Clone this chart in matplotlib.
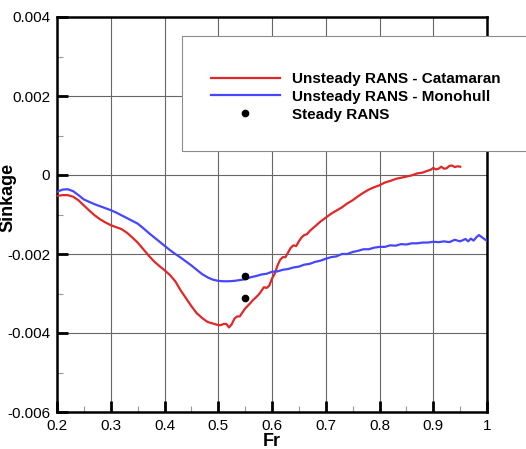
import matplotlib.pyplot as plt
from matplotlib.patches import Rectangle
from matplotlib.ticker import MultipleLocator, FuncFormatter

plt.rcParams['font.family'] = ['Liberation Sans', 'DejaVu Sans']

# Unsteady RANS, catamaran
fr_cat = [0.200, 0.210, 0.220, 0.230, 0.240, 0.250, 0.260, 0.270, 0.280, 0.290,
          0.300, 0.310, 0.320, 0.330, 0.340, 0.350, 0.360, 0.370, 0.380, 0.390,
          0.400, 0.410, 0.420, 0.430, 0.440, 0.450, 0.460, 0.470, 0.480, 0.490,
          0.500, 0.505, 0.510, 0.515, 0.520, 0.525, 0.530, 0.535, 0.540, 0.545,
          0.550, 0.555, 0.560, 0.565, 0.570, 0.575, 0.580, 0.585, 0.590, 0.595,
          0.600, 0.605, 0.610, 0.615, 0.620, 0.625, 0.630, 0.635, 0.640, 0.645,
          0.650, 0.655, 0.660, 0.665, 0.670, 0.675, 0.680, 0.685, 0.690, 0.700,
          0.710, 0.720, 0.730, 0.740, 0.750, 0.760, 0.770, 0.780, 0.790, 0.800,
          0.810, 0.820, 0.830, 0.840, 0.850, 0.860, 0.870, 0.880, 0.890, 0.895,
          0.900, 0.905, 0.910, 0.915, 0.920, 0.925, 0.930, 0.935, 0.940, 0.945,
          0.950]
sink_cat = [-0.00053, -0.00051, -0.00051, -0.00055, -0.00064, -0.00077, -0.00090, -0.00102, -0.00112, -0.00120,
            -0.00127, -0.00132, -0.00137, -0.00146, -0.00158, -0.00171, -0.00187, -0.00203, -0.00218, -0.00230,
            -0.00241, -0.00253, -0.00269, -0.00292, -0.00312, -0.00332, -0.00350, -0.00362, -0.00372, -0.00376,
            -0.00380, -0.00380, -0.00377, -0.00377, -0.00386, -0.00378, -0.00364, -0.00358, -0.00358, -0.00348,
            -0.00338, -0.00331, -0.00324, -0.00316, -0.00310, -0.00303, -0.00294, -0.00284, -0.00286, -0.00280,
            -0.00262, -0.00250, -0.00230, -0.00215, -0.00208, -0.00208, -0.00196, -0.00184, -0.00178, -0.00180,
            -0.00168, -0.00158, -0.00152, -0.00150, -0.00142, -0.00136, -0.00130, -0.00124, -0.00118, -0.00108,
            -0.00098, -0.00090, -0.00082, -0.00072, -0.00064, -0.00054, -0.00045, -0.00037, -0.00031, -0.00026,
            -0.00019, -0.00015, -0.00010, -0.00007, -0.00004, -0.00001, 0.00004, 0.00006, 0.00011, 0.00013,
            0.00018, 0.00014, 0.00016, 0.00021, 0.00016, 0.00017, 0.00023, 0.00024, 0.00020, 0.00022,
            0.00021]

# Unsteady RANS, monohull
fr_mono = [0.200, 0.210, 0.220, 0.230, 0.240, 0.250, 0.260, 0.270, 0.280, 0.290,
           0.300, 0.310, 0.320, 0.330, 0.340, 0.350, 0.360, 0.370, 0.380, 0.390,
           0.400, 0.410, 0.420, 0.430, 0.440, 0.450, 0.460, 0.470, 0.480, 0.490,
           0.500, 0.510, 0.520, 0.530, 0.540, 0.550, 0.560, 0.570, 0.580, 0.590,
           0.600, 0.610, 0.620, 0.630, 0.640, 0.650, 0.660, 0.670, 0.680, 0.690,
           0.700, 0.710, 0.720, 0.730, 0.740, 0.750, 0.760, 0.770, 0.780, 0.790,
           0.800, 0.810, 0.820, 0.830, 0.840, 0.850, 0.860, 0.870, 0.880, 0.890,
           0.900, 0.910, 0.920, 0.930, 0.940, 0.950, 0.960, 0.965, 0.970, 0.975,
           0.980, 0.985, 0.990, 1.000]
sink_mono = [-0.00043, -0.00037, -0.00036, -0.00041, -0.00051, -0.00062, -0.00068, -0.00074, -0.00079, -0.00084,
             -0.00089, -0.00095, -0.00102, -0.00109, -0.00116, -0.00123, -0.00134, -0.00146, -0.00157, -0.00168,
             -0.00179, -0.00190, -0.00200, -0.00209, -0.00219, -0.00229, -0.00240, -0.00251, -0.00259, -0.00265,
             -0.00268, -0.00269, -0.00269, -0.00268, -0.00266, -0.00264, -0.00259, -0.00256, -0.00252, -0.00250,
             -0.00245, -0.00244, -0.00240, -0.00238, -0.00234, -0.00232, -0.00227, -0.00225, -0.00220, -0.00217,
             -0.00212, -0.00208, -0.00206, -0.00200, -0.00200, -0.00195, -0.00192, -0.00188, -0.00188, -0.00184,
             -0.00182, -0.00182, -0.00178, -0.00179, -0.00175, -0.00176, -0.00173, -0.00173, -0.00171, -0.00171,
             -0.00169, -0.00170, -0.00168, -0.00170, -0.00164, -0.00168, -0.00162, -0.00168, -0.00161, -0.00166,
             -0.00158, -0.00152, -0.00157, -0.00167]

# Steady RANS results
fr_steady = [0.55, 0.55]
sink_steady = [-0.00256, -0.00312]

labels = ['Unsteady RANS - Catamaran', 'Unsteady RANS - Monohull', 'Steady RANS']

fig = plt.figure(figsize=(5.26, 4.49), dpi=100)
ax = fig.add_axes([57 / 526, 37 / 449, 430 / 526, 395 / 449])

l1, = ax.plot(fr_cat, sink_cat, color='#e02828', lw=1.6, zorder=3)
l2, = ax.plot(fr_mono, sink_mono, color='#4646ff', lw=1.6, zorder=3)
l3, = ax.plot(fr_steady, sink_steady, 'o', color='black', ms=4.5, zorder=4)

ax.set_xlim(0.2, 1.0)
ax.set_ylim(-0.006, 0.004)
ax.xaxis.set_major_locator(MultipleLocator(0.1))
ax.xaxis.set_minor_locator(MultipleLocator(0.05))
ax.yaxis.set_major_locator(MultipleLocator(0.002))
ax.yaxis.set_minor_locator(MultipleLocator(0.001))
ax.xaxis.set_major_formatter(FuncFormatter(lambda v, p: f'{v:g}'))
ax.yaxis.set_major_formatter(FuncFormatter(lambda v, p: '0' if abs(v) < 1e-9 else f'{v:.3f}'))
ax.tick_params(which='major', direction='in', length=8, width=2, labelsize=11, pad=5)
ax.tick_params(which='minor', direction='in', length=4, width=0.8, color='0.6')
ax.grid(True, which='major', color='0.4', lw=0.8)
for s in ax.spines.values():
    s.set_linewidth(1.8)

ax.set_xlabel('Fr', fontsize=13, fontweight='bold', labelpad=0)
ax.set_ylabel('Sinkage', fontsize=13, fontweight='bold')
ax.yaxis.set_label_coords(-0.095, 0.544)

# legend box sits over the top-right corner of the axes
fig.patches.append(Rectangle((182 / 526, 1 - 151 / 449), 350 / 526, 115 / 449,
                             transform=fig.transFigure, facecolor='white',
                             edgecolor='0.55', lw=0.8, zorder=5))
leg = fig.legend([l1, l2, l3], labels, loc='upper left',
                 bbox_to_anchor=(211 / 526, 1 - 72 / 449), frameon=False,
                 prop={'weight': 'bold', 'size': 11}, handlelength=4.5,
                 handletextpad=0.8, labelspacing=0.25, borderpad=0, borderaxespad=0)
leg.set_zorder(6)

fig.savefig('out.png', dpi=100)
